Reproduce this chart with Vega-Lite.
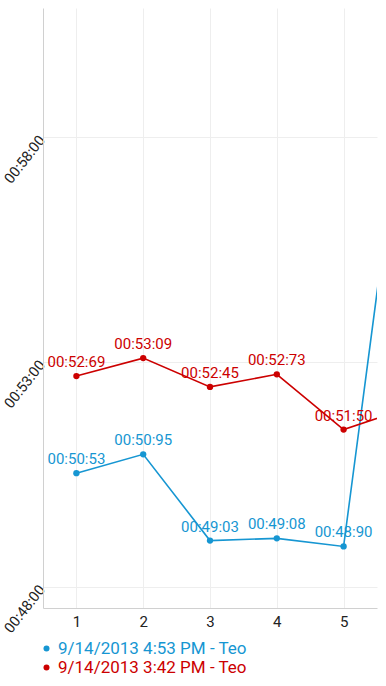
{
  "$schema": "https://vega.github.io/schema/vega-lite/v6.json",
  "width": 334,
  "height": 600,
  "autosize": "none",
  "padding": {"left": 43, "top": 8, "right": 9, "bottom": 78},
  "background": "white",
  "config": {
    "font": "Roboto",
    "view": {"stroke": null},
    "axis": {"gridColor": "#eeeeee", "domainColor": "#d0d0d0", "ticks": false, "labelColor": "#222222", "labelFontSize": 15, "labelFont": "Roboto", "title": null}
  },
  "data": {
    "values": [
      {"x": 1, "v": 50.53, "label": "00:50:53", "series": "9/14/2013 4:53 PM - Teo"},
      {"x": 2, "v": 50.95, "label": "00:50:95", "series": "9/14/2013 4:53 PM - Teo"},
      {"x": 3, "v": 49.03, "label": "00:49:03", "series": "9/14/2013 4:53 PM - Teo"},
      {"x": 4, "v": 49.08, "label": "00:49:08", "series": "9/14/2013 4:53 PM - Teo"},
      {"x": 5, "v": 48.90, "label": "00:48:90", "series": "9/14/2013 4:53 PM - Teo"},
      {"x": 6, "v": 60.20, "label": "00:60:20", "series": "9/14/2013 4:53 PM - Teo"},
      {"x": 1, "v": 52.69, "label": "00:52:69", "series": "9/14/2013 3:42 PM - Teo"},
      {"x": 2, "v": 53.09, "label": "00:53:09", "series": "9/14/2013 3:42 PM - Teo"},
      {"x": 3, "v": 52.45, "label": "00:52:45", "series": "9/14/2013 3:42 PM - Teo"},
      {"x": 4, "v": 52.73, "label": "00:52:73", "series": "9/14/2013 3:42 PM - Teo"},
      {"x": 5, "v": 51.50, "label": "00:51:50", "series": "9/14/2013 3:42 PM - Teo"},
      {"x": 6, "v": 52.00, "label": "00:52:00", "series": "9/14/2013 3:42 PM - Teo"}
    ]
  },
  "encoding": {
    "x": {"field": "x", "type": "quantitative", "scale": {"domain": [0.5, 5.5], "nice": false, "zero": false},
      "axis": {"values": [1, 2, 3, 4, 5], "labelPadding": 6, "grid": true}},
    "y": {"field": "v", "type": "quantitative", "scale": {"domain": [47.53, 60.88], "nice": false, "zero": false},
      "axis": {"values": [48, 53, 58], "labelExpr": "'00:' + format(datum.value, '02d') + ':00'", "labelFontSize": 14.5, "labelAngle": -52, "labelAlign": "right", "labelBaseline": "middle", "labelPadding": 1, "grid": true}},
    "color": {"field": "series", "type": "nominal",
      "scale": {"domain": ["9/14/2013 4:53 PM - Teo", "9/14/2013 3:42 PM - Teo"], "range": ["#1696d2", "#cc0000"]},
      "legend": {"title": null, "orient": "none", "legendX": -5, "legendY": 632, "symbolType": "circle", "symbolSize": 36, "symbolStrokeWidth": 0, "labelFontSize": 17, "labelFont": "Roboto", "labelLimit": 0, "labelOffset": 3, "rowPadding": 1, "padding": 0,
        "encode": {"labels": {"update": {"fill": {"signal": "scale('color', datum.value)"}}}}}}
  },
  "layer": [
    {"mark": {"type": "line", "strokeWidth": 1.6, "clip": true}},
    {"mark": {"type": "point", "filled": true, "opacity": 1, "size": 40, "clip": true}},
    {"transform": [{"filter": "datum.x <= 5"}],
      "mark": {"type": "text", "dy": -9, "baseline": "alphabetic", "fontSize": 15, "font": "Roboto"},
      "encoding": {"text": {"field": "label"}}}
  ]
}
